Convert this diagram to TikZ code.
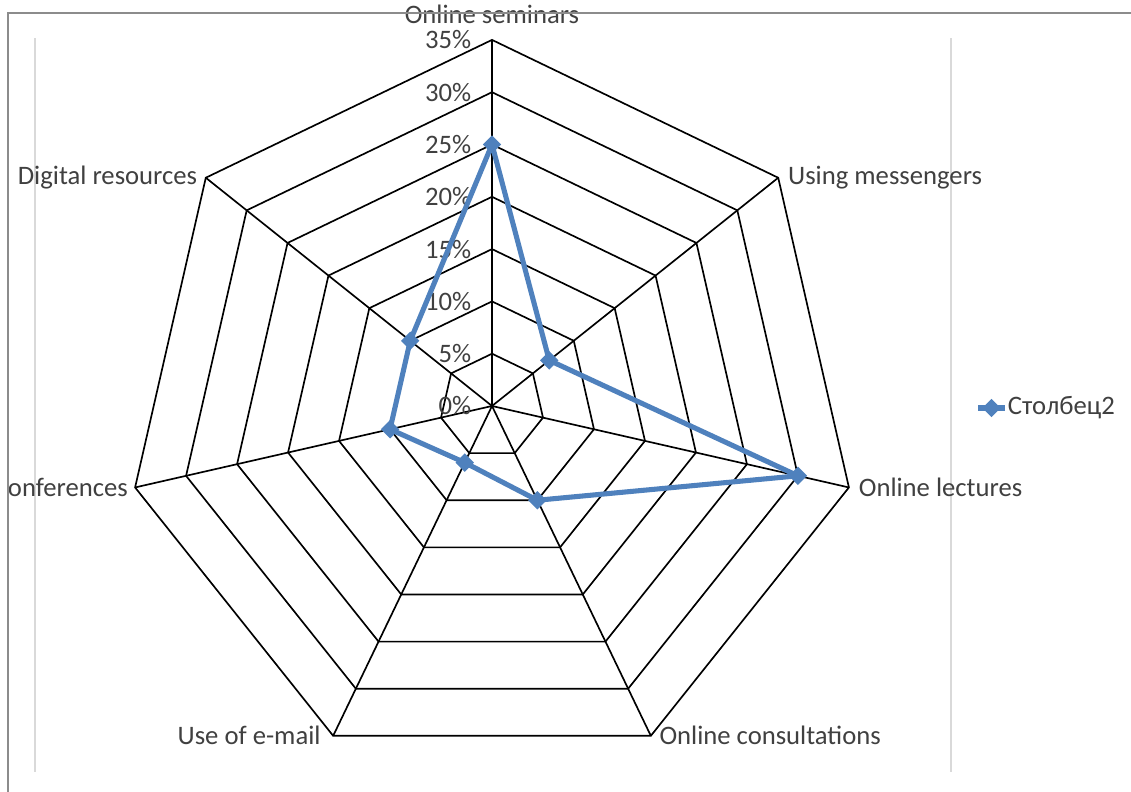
\documentclass[tikz,border=0pt]{standalone}
\usepackage{fontspec}
\setmainfont{Carlito}
\usepackage{xcolor}
\usetikzlibrary{calc, shapes.geometric}
\definecolor{serieblue}{HTML}{4F81BD}
\definecolor{labelgray}{HTML}{404040}

\begin{document}
\begin{tikzpicture}[x=0.75pt, y=0.75pt,
    font=\fontsize{20}{22}\selectfont, text=labelgray,
    grid/.style={black, line width=1.25pt, line join=miter},
    serie/.style={serieblue, line width=3.8pt, line join=round},
    marker/.style={diamond, fill=serieblue, inner sep=0pt, minimum size=14pt}]
    \useasboundingbox (0, 0) rectangle (1131, 792);
    % Plot area
    \draw [black!15, line width=1pt] (35, 20) -- (35, 754);
    \draw [black!15, line width=1pt] (951, 20) -- (951, 754);
    % Centre of the chart
    \coordinate (c) at (492, 386);
    \begin{scope}[shift={(c)}]
        % Rings, 5% each
        \foreach \k in {1, ..., 7}
            \draw [grid] (90:\k*52.3) \foreach \a in {1, ..., 6} { -- (90-\a*360/7:\k*52.3) } -- cycle;
        % Axes
        \coordinate (o) at (0, 0);
        \coordinate (sem) at (90:366);
        \coordinate (mes) at (38.571:366);
        \coordinate (lec) at (-12.857:366);
        \coordinate (con) at (-64.286:366);
        \coordinate (ema) at (-115.714:366);
        \coordinate (cnf) at (-167.143:366);
        \coordinate (dig) at (141.429:366);
        \foreach \n in {sem, mes, lec, con, ema, cnf, dig}
            \draw [grid] (o) -- (\n);
        % Tick labels
        \foreach \k in {0, ..., 7} {
            \pgfmathtruncatemacro\p{\k*5}
            \node [anchor=east] (tick\k) at (-16, \k*52.3) {\p\%};
        }
        % Axis labels
        \node [anchor=base] (lsem) at ($(sem)+(0, 16)$) {Online seminars};
        \node [anchor=west, xshift=4pt] (lmes) at (mes) {Using messengers};
        \node [anchor=west, xshift=4pt] (llec) at (lec) {Online lectures};
        \node [anchor=west, xshift=3pt] (lcon) at (con) {Online consultations};
        \node [anchor=east, xshift=-6pt] (lema) at (ema) {Use of e-mail};
        \node [anchor=east, xshift=-2pt] (lcnf) at (cnf) {onferences};
        \node [anchor=east, xshift=-3pt] (ldig) at (dig) {Digital resources};
        % Data points
        \coordinate (psem) at (90:261.5);
        \coordinate (pmes) at (38.571:73.2);
        \coordinate (plec) at (-12.857:313.8);
        \coordinate (pcon) at (-64.286:104.6);
        \coordinate (pema) at (-115.714:62.8);
        \coordinate (pcnf) at (-167.143:104.6);
        \coordinate (pdig) at (141.429:104.6);
        \draw [serie] (psem) -- (pmes) -- (plec) -- (pcon) -- (pema) -- (pcnf) -- (pdig) -- cycle;
        \foreach \n in {psem, pmes, plec, pcon, pema, pcnf, pdig}
            \node [marker] (m\n) at (\n) {};
    \end{scope}
    % Legend
    \coordinate (lga) at (978, 384);
    \coordinate (lgb) at (1005, 384);
    \draw [serie] (lga) -- (lgb);
    \node [marker] (lgm) at (991.5, 384) {};
    \node [anchor=west, inner sep=2pt] (lgt) at (lgb) {Столбец2};
    % Frame
    \fill [white] (0, 0) rectangle (7, 792);
    \draw [black!45, line width=1.5pt] (8, 0) -- (8, 779) -- (1131, 779);
\end{tikzpicture}
\end{document}
